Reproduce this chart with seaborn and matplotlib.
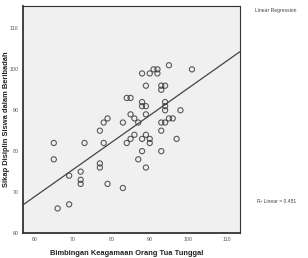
import matplotlib
matplotlib.use("Agg")
import matplotlib.pyplot as plt
import seaborn as sns
import numpy as np
import pandas as pd

# Bimbingan Keagamaan (x) vs Sikap Disiplin (y)
bimbingan = [95, 91, 92, 101, 88, 90, 92, 89, 93, 94, 93, 84, 85, 88, 94,
             88, 89, 94, 94, 98, 85, 89, 86, 95, 96, 79, 78, 83, 87, 93,
             94, 77, 93, 86, 89, 85, 88, 90, 97, 65, 73, 78, 84, 90, 88,
             93, 65, 87, 77, 77, 89, 72, 69, 72, 72, 79, 83, 66, 69]
sikap = [101, 100, 100, 100, 99, 99, 99, 96, 96, 96, 95, 93, 93, 92, 92,
         91, 91, 91, 90, 90, 89, 89, 88, 88, 88, 88, 87, 87, 87, 87,
         87, 85, 85, 84, 84, 83, 83, 83, 83, 82, 82, 82, 82, 82, 80,
         80, 78, 78, 77, 76, 76, 75, 74, 73, 72, 72, 71, 66, 67]
x_ticks = [60, 70, 80, 90, 100, 110]
y_ticks = [60, 70, 80, 90, 100, 110]
r2_label = 0.451

df = pd.DataFrame({"x": bimbingan, "y": sikap})

sns.set_style("white")
plt.rcParams['font.family'] = ['Liberation Sans', 'DejaVu Sans']

fig = plt.figure(figsize=(3.08, 2.58), dpi=100)
ax = fig.add_axes([0.075, 0.097, 0.704, 0.880])
ax.set_facecolor("#f0f0f0")
ax.set_xlim(57, 113.5)
ax.set_ylim(60, 115.5)

sns.regplot(data=df, x="x", y="y", ax=ax, ci=None, truncate=False,
            scatter_kws=dict(s=14, facecolors="none", edgecolors="#333333", linewidths=0.8),
            line_kws=dict(color="#444444", lw=0.9))

ax.set_xticks(x_ticks)
ax.set_yticks(y_ticks)
ax.tick_params(labelsize=3.8, colors="#555555", length=2, width=0.6, pad=1.2)
for s in ax.spines.values():
    s.set_color("#333333")
    s.set_linewidth(0.8)
ax.spines["left"].set_linewidth(1.3)
ax.spines["bottom"].set_linewidth(1.3)

ax.set_xlabel("Bimbingan Keagamaan Orang Tua Tunggal", fontsize=5.4,
              fontweight="bold", color="#222222")
ax.set_ylabel("Sikap Disiplin Siswa dalam Beribadah", fontsize=5.4,
              fontweight="bold", color="#222222", va="center")
ax.yaxis.set_label_coords(-0.078, 0.5)
ax.xaxis.set_label_coords(0.48, -0.075)

fig.text(0.828, 0.955, "Linear Regression", fontsize=3.6, color="#444444")
fig.text(0.835, 0.215, "R\u00b2 Linear = {:.3f}".format(r2_label), fontsize=3.6, color="#444444")

fig.savefig("out.png", dpi=100)
